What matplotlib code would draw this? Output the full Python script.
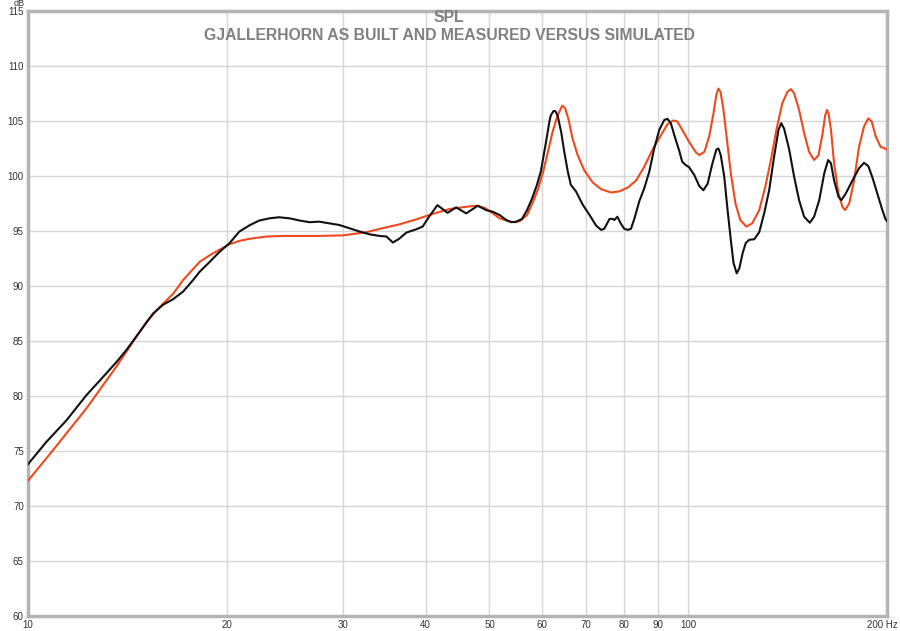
import numpy as np
import matplotlib
matplotlib.use("Agg")
import matplotlib.pyplot as plt
from matplotlib.transforms import ScaledTranslation

# measured response (black)
meas_f = [10.0, 10.67, 11.44, 12.27, 13.0, 13.62, 14.1, 14.52, 14.95, 15.47, 16.02, 16.59, 17.18,
          17.79, 18.2, 18.85, 19.5, 20.2, 20.9, 21.7, 22.4, 23.2, 24.0, 24.9, 25.8, 26.7, 27.6,
          28.6, 29.6, 30.7, 31.8, 32.9, 34.1, 34.9, 35.7, 36.5, 37.4, 38.7, 39.6, 40.5, 41.7,
          43.2, 44.5, 46.1, 48.0, 49.4, 50.6, 51.8, 53.0, 54.0, 54.9, 56.0, 57.0, 58.0, 59.0,
          59.8, 60.9, 61.6, 61.9, 62.5, 62.9, 63.4, 64.2, 64.9, 65.7, 66.4, 67.6, 69.2, 70.8,
          72.5, 73.8, 74.6, 76.0, 76.8, 77.3, 78.1, 79.0, 80.0, 81.0, 81.9, 82.9, 84.3, 85.8,
          87.3, 88.8, 90.4, 92.0, 93.0, 94.1, 95.6, 96.9, 97.9, 99.1, 100.3, 102.1, 103.9, 105.4,
          107.0, 108.8, 110.3, 111.1, 112.0, 113.4, 114.7, 116.0, 117.1, 118.4, 119.5, 120.9,
          122.2, 123.7, 125.9, 128.1, 130.3, 132.6, 134.9, 137.0, 138.3, 139.7, 142.2, 144.7,
          147.2, 149.8, 152.8, 155.1, 157.9, 160.7, 162.9, 164.5, 166.3, 168.9, 170.6, 173.2,
          177.3, 181.4, 184.6, 187.4, 190.0, 193.4, 196.8, 198.7, 200.0]
meas_db = [73.8, 75.85, 77.8, 80.1, 81.75, 83.1, 84.2, 85.25, 86.3, 87.5, 88.3, 88.8, 89.5,
           90.55, 91.3, 92.2, 93.1, 93.9, 94.95, 95.55, 95.95, 96.15, 96.25, 96.15, 95.95, 95.8, 95.85,
           95.7, 95.55, 95.25, 94.95, 94.7, 94.55, 94.5, 93.95, 94.3, 94.85, 95.15, 95.4, 96.3, 97.35,
           96.65, 97.15, 96.6, 97.3, 96.9, 96.75, 96.45, 96.0, 95.8, 95.85, 96.1, 96.9, 97.95, 99.2,
           100.4, 103.1, 104.9, 105.5, 105.9, 105.9, 105.5, 104.0, 102.2, 100.4, 99.2, 98.6, 97.4, 96.5,
           95.5, 95.1, 95.2, 96.1, 96.1, 96.0, 96.3, 95.7, 95.2, 95.1, 95.2, 96.15, 97.7, 98.9,
           100.4, 102.5, 104.2, 105.1, 105.2, 104.8, 103.4, 102.3, 101.3, 101.0, 100.8, 100.1, 99.1, 98.7,
           99.3, 101.15, 102.4, 102.5, 101.9, 99.9, 96.9, 94.2, 92.1, 91.15, 91.6, 93.0,
           93.9, 94.2, 94.25, 94.9, 96.6, 98.7, 101.75, 104.2, 104.8, 104.3, 102.4, 99.9,
           97.8, 96.3, 95.75, 96.3, 97.8, 100.25, 101.45, 101.15, 99.6, 98.1, 97.8, 98.4,
           99.6, 100.7, 101.2, 100.9, 99.9, 98.4, 96.9, 96.15, 95.9]

# simulated response (red)
sim_f = [10.0, 10.92, 12.27, 13.62, 14.43, 15.12, 15.84, 16.59, 17.18, 18.2, 18.85, 19.5, 20.2,
         20.9, 21.7, 23.0, 24.3, 27.4, 30.0, 32.6, 34.4, 36.5, 38.7, 41.0, 43.5, 46.1, 47.8,
         49.2, 50.6, 51.8, 53.7, 54.6, 55.6, 57.0, 58.2, 59.3, 60.3, 61.3, 62.3, 63.4, 64.2,
         64.5, 65.1, 65.9, 66.8, 68.0, 69.6, 71.7, 73.8, 76.4, 78.6, 81.0, 83.4, 85.8, 88.3,
         90.9, 93.0, 94.9, 96.3, 97.9, 100.3, 102.7, 103.9, 105.8, 107.6, 109.2, 110.3, 111.1,
         111.9, 113.0, 114.3, 116.0, 117.9, 119.9, 122.5, 125.0, 128.1, 130.8, 133.4, 136.0,
         138.8, 141.3, 143.1, 144.7, 147.2, 149.8, 152.4, 155.1, 157.5, 159.8, 161.2, 162.2,
         163.1, 164.5, 166.3, 168.9, 171.2, 172.8, 175.3, 178.3, 181.4, 184.6, 187.4, 189.6,
         192.3, 195.6, 199.5, 200.0]
sim_db = [72.3, 75.1, 78.9, 82.7, 84.95, 86.75, 88.1, 89.3, 90.55, 92.2, 92.8, 93.3, 93.8,
          94.1, 94.3, 94.5, 94.55, 94.55, 94.6, 94.9, 95.25, 95.6, 96.05, 96.55, 97.0, 97.2, 97.3,
          97.1, 96.6, 96.15, 95.85, 95.8, 95.9, 96.45, 97.65, 98.9, 100.4, 102.2, 104.0, 105.5, 106.2,
          106.4, 106.15, 105.1, 103.4, 101.9, 100.5, 99.4, 98.8, 98.5, 98.6, 98.95, 99.6, 100.85, 102.4,
          103.7, 104.7, 105.05, 104.95, 104.2, 103.1, 102.15, 101.9, 102.2, 103.6, 105.7, 107.4, 107.95,
          107.65, 106.15, 103.6, 100.25, 97.5, 96.0, 95.4, 95.7, 96.9, 99.0, 101.45, 104.2,
          106.6, 107.65, 107.9, 107.5, 106.0, 103.9, 102.2, 101.45, 101.9, 103.9, 105.5, 106.0,
          105.7, 104.2, 101.15, 98.4, 97.2, 96.9, 97.5, 99.6, 102.65, 104.5, 105.25, 104.95,
          103.6, 102.65, 102.45, 102.4]

x_ticks = [10, 20, 30, 40, 50, 60, 70, 80, 90, 100, 200]
x_labels = ["10", "20", "30", "40", "50", "60", "70", "80", "90", "100", "200 Hz"]
y_ticks = list(range(60, 116, 5))

plt.rcParams['font.family'] = ['Liberation Sans', 'DejaVu Sans']

fig = plt.figure(figsize=(9, 6.31), dpi=100)
ax = fig.add_axes([28 / 900, 15 / 631, 859 / 900, 605 / 631])

ax.plot(sim_f, sim_db, color="#ee4a1e", lw=1.5, zorder=3)
ax.plot(meas_f, meas_db, color="#111111", lw=1.5, zorder=4)

ax.set_xscale("log")
ax.set_xlim(10, 200)
ax.set_ylim(60, 115)
ax.set_xticks(x_ticks)
ax.set_xticklabels(x_labels)
ax.xaxis.set_minor_locator(matplotlib.ticker.NullLocator())
ax.set_yticks(y_ticks)
ax.tick_params(length=0, labelsize=7, colors="#333333", pad=3)
ax.grid(True, color="#d6d6d6", lw=1)
ax.set_axisbelow(True)

# keep the "200 Hz" label inside the picture
last = ax.get_xticklabels()[-1]
last.set_transform(last.get_transform() + ScaledTranslation(-3 / 72, 0, fig.dpi_scale_trans))

for s in ax.spines.values():
    s.set_color("#b4b4b4")
    s.set_linewidth(2.5)

fig.text(19 / 900, 1 - 3.5 / 631, "dB", fontsize=6.5, color="#333333", ha="center", va="center")
fig.text(449 / 900, 1 - 17 / 631, "SPL", fontsize=11.3, fontweight="bold", color="#808080",
         ha="center", va="center")
fig.text(449 / 900, 1 - 35 / 631, "GJALLERHORN AS BUILT AND MEASURED VERSUS SIMULATED",
         fontsize=11.3, fontweight="bold", color="#808080", ha="center", va="center")

fig.savefig("out.png", dpi=100)
